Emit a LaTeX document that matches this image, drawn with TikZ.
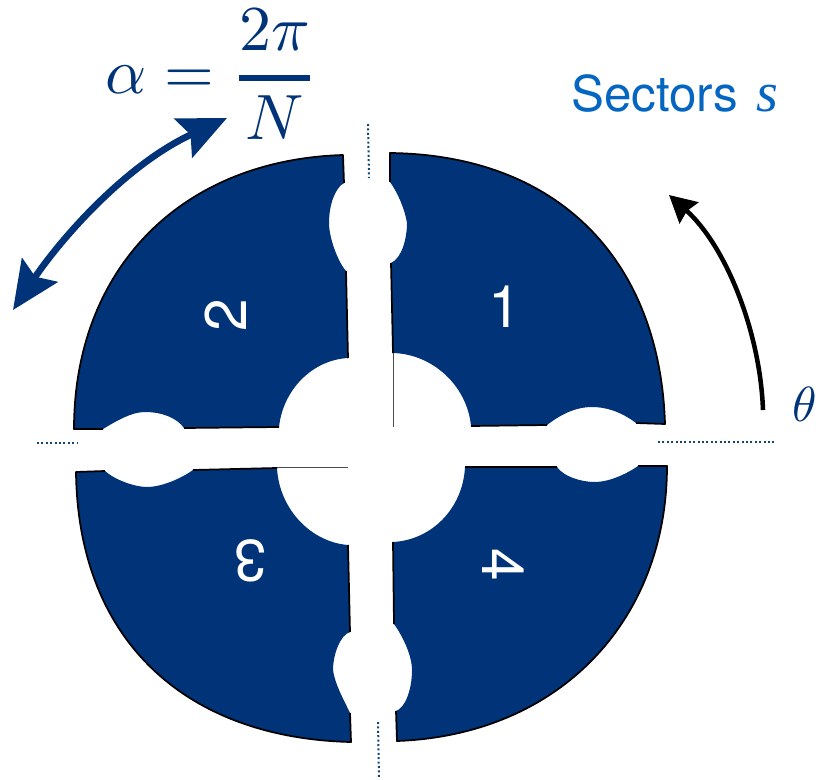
\documentclass[tikz,border=0pt]{standalone}
\usepackage{fontspec}
\usetikzlibrary{arrows.meta}
\newfontfamily\arialfont{TeX Gyre Heros}
\newfontfamily\timesfont{Liberation Serif}
\definecolor{sectorblue}{RGB}{0,51,119}
\definecolor{labelblue}{RGB}{5,102,194}
\definecolor{dotblue}{RGB}{20,70,115}
\tikzset{
	sector/.style={fill=sectorblue,draw=none},
	rim/.style={draw=black,line width=1.3pt,line join=round},
	seam/.style={draw=black!70,line width=0.6pt},
	axisdots/.style={draw=dotblue,line width=1.5pt,dash pattern=on 1.5pt off 1.8pt},
	digit/.style={text=white,font=\arialfont\fontsize{44}{44}\selectfont,inner sep=0pt},
	bigmath/.style={text=sectorblue,scale=4.8,inner sep=0pt}
}
\begin{document}
\begin{tikzpicture}[x=0.75pt,y=-0.75pt]
	\useasboundingbox (0,0) rectangle (816,780);
	\path
	(368,124) coordinate (Tt) (369,178) coordinate (Tb)
	(37,443) coordinate (Ll) (77,443) coordinate (Lr)
	(658,442) coordinate (Rl) (775,442) coordinate (Rr)
	(378,722) coordinate (Bt) (379,778) coordinate (Bb)
	(763,410) coordinate (Ts) (669,195) coordinate (Te)
	(13,310) coordinate (As) (227,118) coordinate (Ae);
	% sectors
	\path[sector] (390,153) .. controls (560,155) and (660,262) .. (665,424)
	-- (636,423) .. controls (620,411) and (605,407) .. (592,407) .. controls (575,407) and (560,415) .. (547,425)
	-- (471,426) .. controls (467,385) and (432,354) .. (393,353)
	-- (391,263) .. controls (402,258) and (407,238) .. (407,223) .. controls (405,210) and (398,193) .. (390,182) -- cycle;
	\path[sector] (343,155) .. controls (180,160) and (74,270) .. (74,429)
	-- (103,429) .. controls (118,420) and (132,412) .. (145,412) .. controls (162,412) and (177,418) .. (184,428)
	-- (279,427) .. controls (283,390) and (312,360) .. (348,358)
	-- (346,271) .. controls (338,262) and (329,238) .. (329,223) .. controls (329,205) and (335,188) .. (344,183) -- cycle;
	\path[sector] (76,472) -- (105,471) .. controls (115,480) and (135,487) .. (147,487) .. controls (162,487) and (182,478) .. (193,470)
	-- (277,468) .. controls (279,508) and (310,542) .. (348,545)
	-- (350,632) .. controls (340,635) and (333,655) .. (333,670) .. controls (335,685) and (345,702) .. (350,713)
	-- (351,742) .. controls (185,738) and (78,640) .. (76,472) -- cycle;
	\path[sector] (667,466) -- (638,466) .. controls (625,475) and (608,482) .. (595,482) .. controls (580,482) and (563,476) .. (557,467)
	-- (465,467) .. controls (463,508) and (432,540) .. (393,542)
	-- (394,624) .. controls (402,635) and (412,655) .. (412,670) .. controls (412,690) and (405,708) .. (396,711)
	-- (397,741) .. controls (560,735) and (667,620) .. (667,466) -- cycle;
	% outlines
	\draw[rim] (391,263) -- (393,353) (547,425) -- (471,426) (390,182) -- (390,153) .. controls (560,155) and (660,262) .. (665,424) -- (636,423);
	\draw[rim] (344,183) -- (343,155) .. controls (180,160) and (74,270) .. (74,429) -- (103,429) (184,428) -- (279,427) (348,358) -- (346,271);
	\draw[rim] (105,471) -- (76,472) .. controls (78,640) and (185,738) .. (351,742) -- (350,713) (193,470) -- (277,468) (348,545) -- (350,632);
	\draw[rim] (638,466) -- (667,466) .. controls (667,620) and (560,735) .. (397,741) -- (396,711) (557,467) -- (465,467) (393,542) -- (394,624);
	\draw[seam] (393,353) -- (393,427) (277,467.5) -- (348,467.5);
	% axes
	\draw[axisdots] (Tt) -- (Tb);
	\draw[axisdots] (Ll) -- (Lr);
	\draw[axisdots] (Rl) -- (Rr);
	\draw[axisdots] (Bt) -- (Bb);
	% arrows
	\draw[black,line width=3.4pt,-{Stealth[length=20pt,width=21pt,inset=2pt]}] (Ts) .. controls (760,330) and (725,245) .. (Te);
	\draw[sectorblue,line width=5pt,{Stealth[length=36pt,width=32pt,inset=6pt]}-{Stealth[length=36pt,width=32pt,inset=6pt]}] (As) .. controls (60,240) and (125,165) .. (Ae);
	% labels
	\node[digit] (one) at (505,307) {1};
	\node[digit,rotate=90] (two) at (226,315) {2};
	\node[digit,rotate=180] (three) at (250,561) {3};
	\node[digit,rotate=270] (four) at (503,565) {4};
	\node[bigmath,anchor=base west] (alphaeq) at (104,94) {$\displaystyle\alpha={2\pi\above 0.8pt N}$};
	\node[anchor=base west,inner sep=0pt,text=labelblue,font=\arialfont\fontsize{37}{37}\selectfont] (sectors) at (571,112) {Sectors};
	\node[anchor=base west,inner sep=0pt,text=labelblue,font=\timesfont\itshape\fontsize{42}{42}\selectfont] (ess) at (756,112) {s};
	\node[text=sectorblue,scale=3.7,inner sep=0pt,anchor=base west] (theta) at (791,421) {$\theta$};
\end{tikzpicture}
\end{document}
